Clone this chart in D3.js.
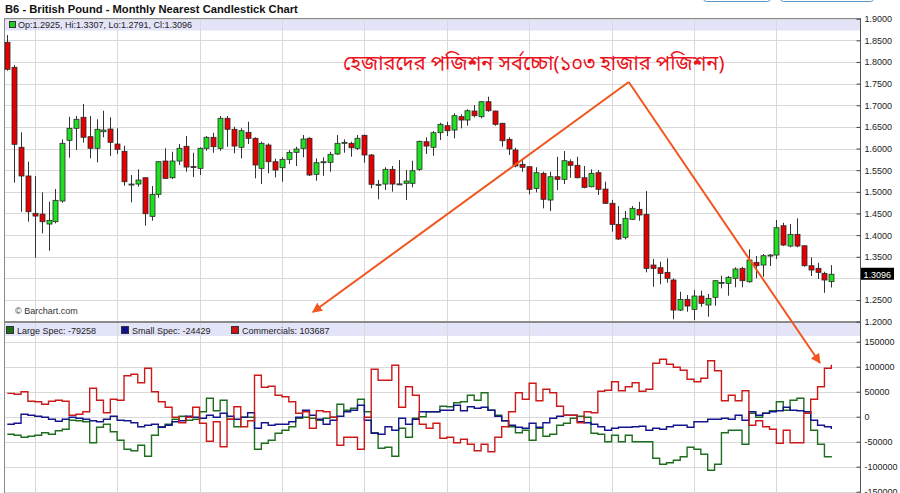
<!DOCTYPE html>
<html><head><meta charset="utf-8">
<script src="https://cdn.jsdelivr.net/npm/d3@7"></script>
<style>body{margin:0;background:#fff;overflow:hidden}svg{display:block;font-family:"Liberation Sans",Arial,sans-serif}</style>
</head><body><svg id="c" width="900" height="493"></svg>
<script>
const opens=[1.8455,1.7877,1.6029,1.5366,1.4504,1.4487,1.4256,1.4310,1.4788,1.6190,
1.6468,1.6722,1.6274,1.6006,1.6389,1.6451,1.6105,1.5936,1.5174,1.5180,
1.5326,1.4434,1.4943,1.5712,1.5326,1.5712,1.6052,1.5585,1.5543,1.6006,
1.6260,1.6006,1.6699,1.6445,1.6029,1.6375,1.6237,1.5543,1.6082,1.5696,
1.5557,1.5751,1.5913,1.6006,1.6237,1.5405,1.5690,1.5682,1.5874,1.6140,
1.6121,1.6006,1.6306,1.5851,1.5170,1.5180,1.5520,1.5180,1.5197,1.5197,
1.5520,1.6158,1.6029,1.6366,1.6528,1.6428,1.6736,1.6659,1.6867,1.6736,
1.7082,1.6867,1.6583,1.6213,1.5967,1.5636,1.5580,1.5081,1.5428,1.4811,
1.5349,1.5289,1.5696,1.5613,1.5326,1.5118,1.5442,1.5065,1.4735,1.4249,
1.3949,1.4365,1.4596,1.4480,1.3309,1.3247,1.3140,1.2963,1.2269,1.2516,
1.2285,1.2593,1.2385,1.2563,1.2905,1.2886,1.3002,1.3233,1.2923,1.3371,
1.3309,1.3536,1.3540,1.4217,1.3748,1.4018,1.3755,1.3293,1.3233,1.3117,
1.2925];
const highs=[1.8623,1.7930,1.6375,1.5696,1.5366,1.4989,1.4772,1.5065,1.6213,1.6736,
1.6752,1.7030,1.6752,1.6676,1.6874,1.6722,1.6468,1.6066,1.5389,1.5520,
1.5330,1.5134,1.5712,1.6006,1.5927,1.6105,1.6290,1.5904,1.6029,1.6290,
1.6366,1.6752,1.6752,1.6505,1.6468,1.6620,1.6260,1.6158,1.6121,1.5765,
1.5798,1.5967,1.6042,1.6313,1.6260,1.5774,1.5798,1.5927,1.6313,1.6213,
1.6158,1.6313,1.6320,1.5874,1.5273,1.5567,1.5597,1.5735,1.5504,1.5719,
1.6181,1.6260,1.6405,1.6597,1.6620,1.6814,1.6791,1.6907,1.7006,1.7098,
1.7198,1.6874,1.6597,1.6260,1.6019,1.5758,1.5597,1.5567,1.5465,1.5465,
1.5811,1.5943,1.5751,1.5811,1.5597,1.5520,1.5504,1.5234,1.4811,1.4672,
1.4557,1.4672,1.4772,1.5019,1.3450,1.3385,1.3464,1.3000,1.2692,1.2616,
1.2731,1.2715,1.2639,1.2963,1.3062,1.3055,1.3256,1.3269,1.3672,1.3517,
1.3563,1.3563,1.4349,1.4287,1.4256,1.4388,1.3760,1.3487,1.3362,1.3155,
1.3307];
const lows=[1.7799,1.5211,1.4541,1.4310,1.3478,1.4042,1.3640,1.4272,1.4749,1.5788,
1.5967,1.6135,1.5774,1.5682,1.6260,1.5828,1.5874,1.5141,1.4758,1.5118,
1.4217,1.4333,1.4864,1.5296,1.5296,1.5620,1.5465,1.5342,1.5389,1.5950,
1.5904,1.5950,1.6042,1.5890,1.5774,1.6105,1.5312,1.5180,1.5428,1.5335,
1.5234,1.5643,1.5597,1.5798,1.5366,1.5257,1.5372,1.5465,1.5851,1.5904,
1.5811,1.5967,1.5673,1.5081,1.4827,1.5042,1.5003,1.5157,1.4811,1.5104,
1.5488,1.5874,1.5835,1.6197,1.6290,1.6237,1.6468,1.6528,1.6722,1.6699,
1.6851,1.6528,1.6042,1.5851,1.5567,1.5465,1.4943,1.4989,1.4619,1.4557,
1.5042,1.5180,1.5326,1.5312,1.5081,1.5104,1.4927,1.4719,1.4078,1.3887,
1.3903,1.4349,1.4333,1.3140,1.2808,1.2863,1.2900,1.2055,1.2246,1.2230,
1.2038,1.2346,1.2115,1.2369,1.2771,1.2600,1.2794,1.2794,1.2900,1.3002,
1.3039,1.3286,1.3448,1.3748,1.3718,1.3718,1.3270,1.3055,1.2986,1.2667,
1.2791];
const closes=[1.7831,1.6098,1.5366,1.4541,1.4441,1.4310,1.4342,1.4804,1.6121,1.6468,
1.6676,1.6260,1.6006,1.6445,1.6428,1.6144,1.5983,1.5234,1.5180,1.5273,
1.4495,1.4943,1.5696,1.5312,1.5712,1.6006,1.5573,1.5580,1.6006,1.6260,
1.6042,1.6699,1.6445,1.6058,1.6412,1.6237,1.5620,1.6121,1.5696,1.5504,
1.5751,1.5913,1.5989,1.6220,1.5389,1.5673,1.5696,1.5867,1.6121,1.6144,
1.6019,1.6237,1.5851,1.5174,1.5174,1.5520,1.5180,1.5184,1.5250,1.5488,
1.6167,1.6058,1.6366,1.6560,1.6412,1.6759,1.6659,1.6874,1.6759,1.7082,
1.6874,1.6560,1.6181,1.5989,1.5597,1.5567,1.5058,1.5442,1.4827,1.5349,
1.5289,1.5719,1.5613,1.5326,1.5104,1.5428,1.5058,1.4735,1.4249,1.3910,
1.4388,1.4619,1.4465,1.3233,1.3233,1.3117,1.3002,1.2269,1.2516,1.2362,
1.2593,1.2424,1.2540,1.2947,1.2909,1.3025,1.3217,1.2947,1.3425,1.3293,
1.3524,1.3540,1.4171,1.3771,1.4018,1.3748,1.3293,1.3194,1.3140,1.2963,
1.3096];
const commercials=[46700,45000,50000,31000,30000,25000,31000,33000,31000,3000,
5000,10000,57000,33000,8000,35000,33000,82000,85000,68000,
97000,50000,30000,19000,-1000,-12000,-1000,19000,-13000,-49000,
-10000,-60000,-5000,20000,-20000,-8000,83000,59000,61000,43000,
40000,30000,7000,10000,-23000,12000,10000,-1000,-57000,-41000,
-41000,-65000,-1000,95000,73000,73000,103000,19000,60000,43000,
-15000,-23000,-13000,-43000,-41000,-52000,-45000,-55000,-68000,-55000,
-70000,-41000,-20000,10000,48000,35000,67000,32000,55000,48000,
21000,3000,3000,-12000,10000,8000,51000,53000,70000,52000,
60000,68000,51000,55000,107000,115000,105000,99000,93000,75000,
70000,77000,112000,92000,32000,43000,32000,52000,-17000,-8000,
-20000,-25000,-53000,-27000,-52000,-52000,7000,35000,60000,97000,
103687];
const smallSpec=[-15000,-13000,5000,3000,1000,-1000,-5000,-9000,-5000,-1000,
-3000,-5000,-8000,-10000,-5000,1000,-7000,-8000,-12000,-20000,
-17000,-15000,-21000,-17000,-10000,-8000,1000,-1000,-3000,3000,
-1000,7000,1000,-5000,-1000,8000,-23000,-12000,-17000,-15000,
-15000,-10000,-1000,13000,3000,-5000,-15000,-7000,1000,10000,
13000,23000,-7000,-33000,-35000,-20000,-27000,-3000,-15000,-5000,
10000,10000,10000,13000,13000,23000,12000,20000,17000,19000,
13000,1000,-8000,-17000,-21000,-23000,-13000,-21000,-12000,-3000,
1000,3000,3000,-10000,-12000,-15000,-20000,-27000,-23000,-21000,
-21000,-20000,-19000,-27000,-23000,-25000,-20000,-17000,-17000,-21000,
-10000,-10000,-5000,-5000,-3000,-5000,3000,-7000,10000,3000,
7000,10000,12000,19000,13000,12000,10000,-7000,-17000,-20000,
-24429];
const largeSpec=[-35000,-37000,-41000,-39000,-37000,-32000,-35000,-28000,-25000,-7000,
-8000,-10000,-52000,-21000,-15000,-30000,-47000,-65000,-68000,-57000,
-79000,-37000,-20000,-15000,-5000,1000,-7000,-5000,10000,37000,
12000,33000,-5000,-20000,-1000,-1000,-65000,-53000,-47000,-33000,
-27000,-20000,-3000,-1000,-3000,-7000,-3000,-1000,25000,13000,
17000,35000,10000,-32000,-63000,-61000,-79000,-23000,-41000,-3000,
0,10000,10000,21000,20000,28000,30000,43000,33000,48000,
13000,3000,-8000,-20000,-32000,-27000,-47000,-23000,-39000,-35000,
-17000,-13000,-3000,1000,-1000,-33000,-35000,-50000,-37000,-50000,
-37000,-50000,-50000,-50000,-83000,-95000,-92000,-87000,-80000,-61000,
-65000,-75000,-107000,-95000,-32000,-27000,-27000,-55000,7000,-1000,
7000,12000,30000,13000,33000,37000,10000,-27000,-55000,-80000,
-79258];
const priceTicks=[1.9,1.85,1.8,1.75,1.7,1.65,1.6,1.55,1.5,1.45,1.4,1.35,1.25,1.2];
const cotTicks=[150000,100000,50000,0,-50000,-100000,-150000];
const yearStarts=[4,16,28,40,52,64,76,88,100,112];
const title="B6 - British Pound - Monthly Nearest Candlestick Chart";
const note="হেজারদের পজিশন সর্বচ্চো(১০৩ হাজার পজিশন)";
// annotation anchor points in data space: [monthIndex, value]
const arrowApex=[90.5,1.7537], arrowTip1=[44.5,1.2223], arrowTip2=[118.35,107400];

const svg=d3.select("#c");
const L=4.5,R=860.5,T1=18.5,B1=321.5,T2=322.5,B2=493;
const n=closes.length;
const x=d3.scaleLinear().domain([0,n-1]).range([7.3,831.3]);
const yP=d3.scaleLinear().domain([1.2,1.9]).range([321.7,18.7]);
const yC=d3.scaleLinear().domain([-150000,150000]).range([491.7,341.7]);
const grid="#d9d9d9";

// title
svg.append("text").attr("x",5).attr("y",13).attr("font-weight","bold").attr("font-size",11.2).attr("fill","#111").text(title);
// buttons
[[703.5,67],[780.5,93]].forEach(([bx,bw])=>svg.append("rect").attr("x",bx).attr("y",-10).attr("width",bw).attr("height",11.5).attr("rx",3).attr("fill","#fff").attr("stroke","#5a98c8"));

// panels background
svg.append("rect").attr("x",L).attr("y",T1).attr("width",R-L).attr("height",12).attr("fill","#e4e4f8");
svg.append("rect").attr("x",L).attr("y",T2).attr("width",R-L).attr("height",13.5).attr("fill","#e4e4f8");

// horizontal grids
svg.append("g").selectAll("line").data(priceTicks.concat([1.3])).join("line")
 .attr("x1",L).attr("x2",R).attr("y1",d=>Math.round(yP(d))+0.5).attr("y2",d=>Math.round(yP(d))+0.5).attr("stroke",grid);
svg.append("g").selectAll("line").data(cotTicks).join("line")
 .attr("x1",L).attr("x2",R).attr("y1",d=>Math.round(yC(d))+0.5).attr("y2",d=>Math.round(yC(d))+0.5).attr("stroke",grid);
// vertical grids
svg.append("g").selectAll("line").data(yearStarts).join("line")
 .attr("x1",d=>Math.round(x(d))+0.5).attr("x2",d=>Math.round(x(d))+0.5).attr("y1",T1).attr("y2",B2).attr("stroke",grid);

// borders
svg.append("rect").attr("x",L).attr("y",T1).attr("width",R-L).attr("height",B1-T1).attr("fill","none").attr("stroke","#8a8a8a");
svg.append("rect").attr("x",L).attr("y",T2).attr("width",R-L).attr("height",B2-T2+5).attr("fill","none").attr("stroke","#8a8a8a");

// legends
svg.append("rect").attr("x",9.5).attr("y",21.5).attr("width",6).attr("height",6).attr("fill","#22cc22").attr("stroke","#333");
svg.append("text").attr("x",18).attr("y",28).attr("font-size",9).attr("fill","#222")
 .text(`Op:${opens[n-1].toFixed(4)}, Hi:${highs[n-1].toFixed(4)}, Lo:${lows[n-1].toFixed(4)}, Cl:${closes[n-1].toFixed(4)}`);
const leg=[["Large Spec",largeSpec,"#1a6e1a",6],["Small Spec",smallSpec,"#10108a",121],["Commercials",commercials,"#c81414",231]];
leg.forEach(([nm,arr,c,lx])=>{
 svg.append("rect").attr("x",lx+0.5).attr("y",326.5).attr("width",7).attr("height",7).attr("fill",c).attr("stroke","#333");
 svg.append("text").attr("x",lx+11).attr("y",334).attr("font-size",9).attr("fill","#222").text(`${nm}: ${arr[n-1]}`);
});

// candles
const cg=svg.append("g");
const idx=d3.range(n);
cg.selectAll("line").data(idx).join("line")
 .attr("x1",i=>Math.round(x(i))+0.5).attr("x2",i=>Math.round(x(i))+0.5)
 .attr("y1",i=>yP(highs[i])).attr("y2",i=>yP(lows[i])).attr("stroke","#333").attr("stroke-width",1);
cg.selectAll("rect").data(idx).join("rect")
 .attr("x",i=>Math.round(x(i))-2).attr("width",5)
 .attr("y",i=>yP(Math.max(opens[i],closes[i])))
 .attr("height",i=>Math.max(1,Math.abs(yP(opens[i])-yP(closes[i]))))
 .attr("fill",i=>closes[i]>=opens[i]?"#1ee01e":"#e20000")
 .attr("stroke","#2a2a2a").attr("stroke-width",0.8);

svg.append("text").attr("x",15).attr("y",314).attr("font-size",9).attr("fill","#333").text("© Barchart.com");

// COT lines
const line=arr=>d3.line().x((d,i)=>x(i)).y(d=>yC(d)).curve(d3.curveStepAfter)(arr);
[[largeSpec,"#1f6e1f"],[smallSpec,"#14148c"],[commercials,"#cc1a1a"]].forEach(([a,c])=>
 svg.append("path").attr("d",line(a)).attr("fill","none").attr("stroke",c).attr("stroke-width",1.4));

// right axes
const ax1=d3.axisRight(yP).tickValues(priceTicks).tickFormat(d3.format(".4f")).tickSizeInner(-4).tickSizeOuter(0).tickPadding(4);
const ax2=d3.axisRight(yC).tickValues(cotTicks).tickFormat(d=>String(d)).tickSizeInner(-4).tickSizeOuter(0).tickPadding(4);
[ax1,ax2].forEach(a=>{
 const g=svg.append("g").attr("transform",`translate(${R},0)`).call(a);
 g.select(".domain").remove();
 g.selectAll("text").attr("font-size",9).attr("font-family","Liberation Sans, Arial, sans-serif").attr("fill","#222");
 g.selectAll("line").attr("stroke","#444");
});
svg.append("line").attr("x1",R).attr("x2",R).attr("y1",T1).attr("y2",B2).attr("stroke","#555");
// current price box
const cy=yP(closes[n-1]);
svg.append("rect").attr("x",861).attr("y",cy-6.5).attr("width",33).attr("height",12).attr("fill","#000");
svg.append("text").attr("x",863.5).attr("y",cy+3.5).attr("font-size",9).attr("fill","#fff").text(closes[n-1].toFixed(4));

// annotation
const oc="#f0561e";
svg.append("defs").append("marker").attr("id","ah").attr("viewBox","0 0 10 10").attr("refX",9).attr("refY",5)
 .attr("markerWidth",5).attr("markerHeight",5).attr("orient","auto").attr("markerUnits","strokeWidth")
 .append("path").attr("d","M0,0L10,5L0,10z").attr("fill",oc);
const ax=x(arrowApex[0]), ay=yP(arrowApex[1]);
svg.append("line").attr("x1",ax).attr("y1",ay).attr("x2",x(arrowTip1[0])).attr("y2",yP(arrowTip1[1])).attr("stroke",oc).attr("stroke-width",2).attr("marker-end","url(#ah)");
svg.append("line").attr("x1",ax).attr("y1",ay).attr("x2",x(arrowTip2[0])).attr("y2",yC(arrowTip2[1])).attr("stroke",oc).attr("stroke-width",2).attr("marker-end","url(#ah)");
svg.append("text").attr("x",343).attr("y",70).attr("font-size",20)
 .attr("font-family","'Noto Sans Bengali','Lohit Bengali','Noto Sans',sans-serif").attr("fill","#e8141e").text(note);
</script></body></html>
